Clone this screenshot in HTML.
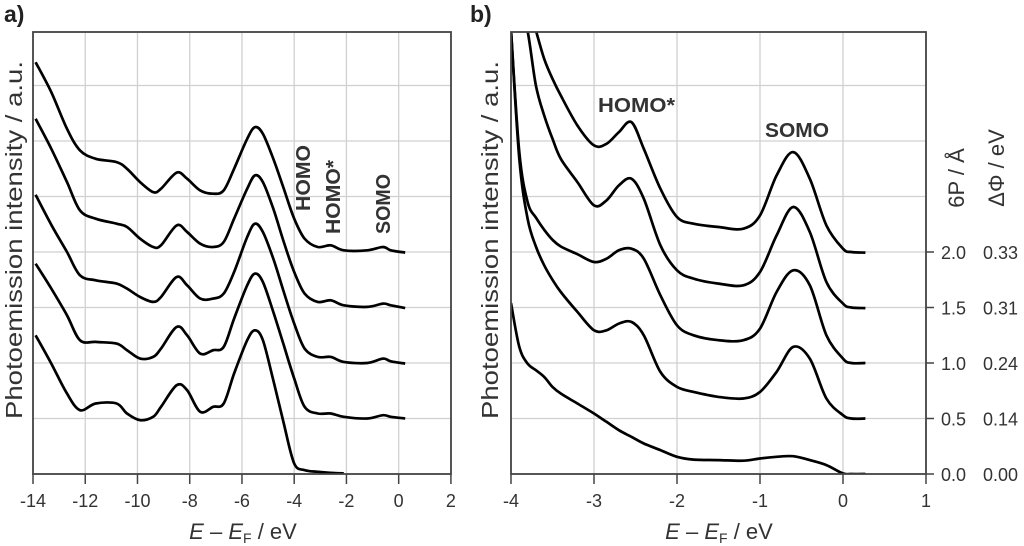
<!DOCTYPE html>
<html><head><meta charset="utf-8">
<style>
html,body{margin:0;padding:0;background:#fff;}
svg{display:block;font-family:"Liberation Sans","DejaVu Sans",sans-serif;}
</style></head>
<body>
<svg id="chart" width="1024" height="546" viewBox="0 0 1024 546" xmlns="http://www.w3.org/2000/svg">
<defs>
<clipPath id="clipA"><rect x="33" y="32" width="418" height="442"/></clipPath>
<clipPath id="clipB"><rect x="511" y="32" width="415" height="442"/></clipPath>
</defs>
<g id="gridA"></g>
<g id="gridB"></g>
<g id="curvesA" clip-path="url(#clipA)"></g>
<g id="curvesB" clip-path="url(#clipB)"></g>
<g id="axes"></g>
<text x="4" y="22" font-size="23" font-weight="bold" fill="#222">a)</text>
<text x="470" y="22" font-size="23" font-weight="bold" fill="#222">b)</text>
<text transform="translate(22,240) rotate(-90)" text-anchor="middle" font-size="23" fill="#333" textLength="358" lengthAdjust="spacingAndGlyphs">Photoemission intensity / a.u.</text>
<text transform="translate(498,240) rotate(-90)" text-anchor="middle" font-size="23" fill="#333" textLength="358" lengthAdjust="spacingAndGlyphs">Photoemission intensity / a.u.</text>
<text x="243" y="539" text-anchor="middle" font-size="22" fill="#333"><tspan font-style="italic">E</tspan> – <tspan font-style="italic">E</tspan><tspan font-size="14" dy="4">F</tspan><tspan dy="-4"> / eV</tspan></text>
<text x="719" y="539" text-anchor="middle" font-size="22" fill="#333"><tspan font-style="italic">E</tspan> – <tspan font-style="italic">E</tspan><tspan font-size="14" dy="4">F</tspan><tspan dy="-4"> / eV</tspan></text>
<text transform="translate(964,178) rotate(-90)" text-anchor="middle" font-size="22" fill="#333">6P / Å</text>
<text transform="translate(1004,168) rotate(-90)" text-anchor="middle" font-size="22" fill="#333">ΔΦ / eV</text>
<text transform="translate(310,178) rotate(-90)" text-anchor="middle" font-size="20" font-weight="bold" fill="#333" textLength="66" lengthAdjust="spacingAndGlyphs">HOMO</text>
<text transform="translate(340,197) rotate(-90)" text-anchor="middle" font-size="20" font-weight="bold" fill="#333" textLength="74" lengthAdjust="spacingAndGlyphs">HOMO*</text>
<text transform="translate(390,204) rotate(-90)" text-anchor="middle" font-size="20" font-weight="bold" fill="#333" textLength="60" lengthAdjust="spacingAndGlyphs">SOMO</text>
<text x="598" y="112" font-size="20" font-weight="bold" fill="#333" textLength="77" lengthAdjust="spacingAndGlyphs">HOMO*</text>
<text x="765" y="137" font-size="20" font-weight="bold" fill="#333" textLength="64" lengthAdjust="spacingAndGlyphs">SOMO</text>
</svg>
<script>
// ---- Panel a data ----
const energiesA = [-13.9,-13.3,-12.7,-12.2,-11.6,-10.8,-10.4,-9.9,-9.4,-9.1,-8.5,-8.1,-7.6,-7.1,-6.7,-6.3,-5.8,-5.5,-5.2,-4.8,-4.4,-4.0,-3.6,-3.1,-2.6,-2.1,-1.2,-0.6,-0.3,0.25];
const offsetsA = [4,3,2,1,0];
const spectrumA1 = [3.42,2.88,2.22,1.83,1.68,1.62,1.50,1.26,1.08,1.14,1.43,1.32,1.11,1.05,1.11,1.50,2.04,2.25,2.13,1.68,1.14,0.60,0.24,0.09,0.12,0.03,0.03,0.09,0.03,-0.01];
const spectrumA2 = [3.40,2.86,2.26,1.75,1.60,1.51,1.45,1.24,1.09,1.12,1.48,1.36,1.15,1.09,1.18,1.60,2.14,2.38,2.26,1.78,1.18,0.64,0.25,0.10,0.13,0.04,0.01,0.07,0.04,-0.01];
const spectrumA3 = [3.03,2.49,2.00,1.58,1.49,1.43,1.34,1.19,1.10,1.19,1.55,1.40,1.16,1.16,1.25,1.64,2.27,2.51,2.36,1.88,1.28,0.71,0.26,0.11,0.11,0.02,0.00,0.08,0.03,-0.01];
const spectrumA4 = [2.79,2.34,1.86,1.41,1.38,1.35,1.23,1.08,1.11,1.26,1.65,1.50,1.17,1.23,1.29,1.80,2.40,2.61,2.46,1.92,1.32,0.72,0.21,0.09,0.09,0.03,0.00,0.06,0.03,0.00];
const spectrumA5 = [2.50,1.99,1.45,1.15,1.27,1.27,1.09,0.97,1.03,1.21,1.60,1.51,1.12,1.21,1.27,1.81,2.41,2.59,2.41,1.69,0.91,0.19,0.07,0.04,0.02,0.01,null,null,null,null];
const xTicksA = [-14,-12,-10,-8,-6,-4,-2,0,2];
const xTickLabelsA = ["-14","-12","-10","-8","-6","-4","-2","0","2"];
// ---- Panel b data ----
const energiesB = [-4.0,-3.9,-3.8,-3.7,-3.6,-3.5,-3.4,-3.2,-3.0,-2.85,-2.7,-2.55,-2.4,-2.2,-2.0,-1.8,-1.5,-1.2,-1.0,-0.8,-0.6,-0.4,-0.2,0.0,0.1,0.27];
const offsetsB = [2.0,1.5,1.0,0.5,0.0];
const spectrumB1 = [5.6,5.0,4.5,3.99,3.48,3.12,2.82,2.28,1.92,1.95,2.16,2.34,1.86,1.14,0.63,0.51,0.45,0.42,0.66,1.38,1.80,1.32,0.48,0.06,0.00,-0.01];
const spectrumB2 = [6.0,5.5,4.98,4.00,3.46,3.04,2.68,2.26,1.84,1.93,2.20,2.32,1.96,1.12,0.67,0.52,0.43,0.40,0.64,1.30,1.81,1.36,0.46,0.07,0.00,-0.01];
const spectrumB3 = [5.99,3.80,2.90,2.62,2.40,2.22,2.10,1.96,1.82,1.88,2.03,2.06,1.88,1.22,0.68,0.50,0.41,0.41,0.62,1.28,1.67,1.40,0.50,0.08,0.00,0.00];
const spectrumB4 = [7.0,4.68,3.60,3.10,2.76,2.50,2.28,1.92,1.59,1.59,1.71,1.74,1.50,0.84,0.57,0.48,0.39,0.36,0.48,0.84,1.29,1.08,0.36,0.06,0.00,0.00];
const spectrumB5 = [3.08,2.29,1.99,1.87,1.75,1.57,1.45,1.27,1.09,0.94,0.79,0.67,0.55,0.43,0.31,0.26,0.25,0.24,0.28,0.31,0.32,0.25,0.16,0.01,0.00,0.00];
const xTicksB = [-4,-3,-2,-1,0,1];
const xTickLabelsB = ["-4","-3","-2","-1","0","1"];
const rightTicks = [0.0,0.5,1.0,1.5,2.0];
const coverageLabels = ["0.0","0.5","1.0","1.5","2.0"];
const workFunctionLabels = ["0.00","0.14","0.24","0.31","0.33"];
const gridLevels = [1,2,3,4,5,6,7];

const NS = "http://www.w3.org/2000/svg";
const Y0 = 474, UNIT = 55.5;
function xA(e){ return 33 + (e + 14) * 26.12; }
function xB(e){ return 511 + (e + 4) * 83; }
function yU(v){ return Y0 - v * UNIT; }
function yB(v){ return Y0 - v * 2 * UNIT; }

function mk(tag, attrs, parent){
  const el = document.createElementNS(NS, tag);
  for (const k in attrs) el.setAttribute(k, attrs[k]);
  parent.appendChild(el); return el;
}
function smoothPath(pts){
  if (pts.length < 2) return "";
  let d = "M" + pts[0][0].toFixed(1) + "," + pts[0][1].toFixed(1);
  for (let i = 0; i < pts.length - 1; i++){
    const p0 = pts[Math.max(0,i-1)], p1 = pts[i], p2 = pts[i+1], p3 = pts[Math.min(pts.length-1,i+2)];
    const c1x = p1[0] + (p2[0]-p0[0])/6, c1y = p1[1] + (p2[1]-p0[1])/6;
    const c2x = p2[0] - (p3[0]-p1[0])/6, c2y = p2[1] - (p3[1]-p1[1])/6;
    d += "C" + c1x.toFixed(1)+","+c1y.toFixed(1)+" "+c2x.toFixed(1)+","+c2y.toFixed(1)+" "+p2[0].toFixed(1)+","+p2[1].toFixed(1);
  }
  return d;
}

const gridA = document.getElementById('gridA');
const gridB = document.getElementById('gridB');
const axes = document.getElementById('axes');
const gridStyle = {stroke:"#d0d0d0","stroke-width":"1.3"};

xTicksA.forEach((t,i) => {
  const x = xA(t);
  const g = mk('line', Object.assign({x1:x,x2:x,y1:32,y2:474}, gridStyle), gridA);
  
  
  const tk = mk('line', {x1:x,x2:x,y1:474,y2:484,stroke:"#444","stroke-width":"1.5"}, axes);
  
  
  const tl = mk('text', {x:x,y:507,"text-anchor":"middle","font-size":"18",fill:"#333"}, axes);
  tl.textContent = xTickLabelsA[i];
  
  
});
xTicksB.forEach((t,i) => {
  const x = xB(t);
  const g = mk('line', Object.assign({x1:x,x2:x,y1:32,y2:474}, gridStyle), gridB);
  
  
  const tk = mk('line', {x1:x,x2:x,y1:474,y2:484,stroke:"#444","stroke-width":"1.5"}, axes);
  
  
  const tl = mk('text', {x:x,y:507,"text-anchor":"middle","font-size":"18",fill:"#333"}, axes);
  tl.textContent = xTickLabelsB[i];
  
  
});
gridLevels.forEach(l => {
  const y = yU(l);
  const ga = mk('line', Object.assign({x1:33,x2:451,y1:y,y2:y}, gridStyle), gridA);
  
  
  const gb = mk('line', Object.assign({x1:511,x2:926,y1:y,y2:y}, gridStyle), gridB);
  
  
});
rightTicks.forEach((t,i) => {
  const y = yB(t);
  const tk = mk('line', {x1:926,x2:934,y1:y,y2:y,stroke:"#444","stroke-width":"1.5"}, axes);
  
  
  const l1 = mk('text', {x:941,y:y+7,"font-size":"18",fill:"#333"}, axes);
  l1.textContent = coverageLabels[i];
  
  
  const l2 = mk('text', {x:983,y:y+7,"font-size":"18",fill:"#333"}, axes);
  l2.textContent = workFunctionLabels[i];
  
  
});
const fa = mk('rect', {x:33,y:32,width:418,height:442,fill:"none",stroke:"#444","stroke-width":"1.8"}, axes);


const fb = mk('rect', {x:511,y:32,width:415,height:442,fill:"none",stroke:"#444","stroke-width":"1.8"}, axes);



const seriesA = [spectrumA1,spectrumA2,spectrumA3,spectrumA4,spectrumA5];
const curvesA = document.getElementById('curvesA');
seriesA.forEach((s,k) => {
  const pts = [];
  s.forEach((v,i) => { if (v !== null) pts.push([xA(energiesA[i]), yU(v + offsetsA[k])]); });
  const p = mk('path', {d:smoothPath(pts),fill:"none",stroke:"#000","stroke-width":"2.7","stroke-linejoin":"round"}, curvesA);
  
  
});
const seriesB = [spectrumB1,spectrumB2,spectrumB3,spectrumB4,spectrumB5];
const curvesB = document.getElementById('curvesB');
seriesB.forEach((s,k) => {
  const pts = [];
  s.forEach((v,i) => { if (v !== null) pts.push([xB(energiesB[i]), yU(v + offsetsB[k]*2)]); });
  const p = mk('path', {d:smoothPath(pts),fill:"none",stroke:"#000","stroke-width":"2.7","stroke-linejoin":"round"}, curvesB);
  
  
});
</script>
</body></html>
